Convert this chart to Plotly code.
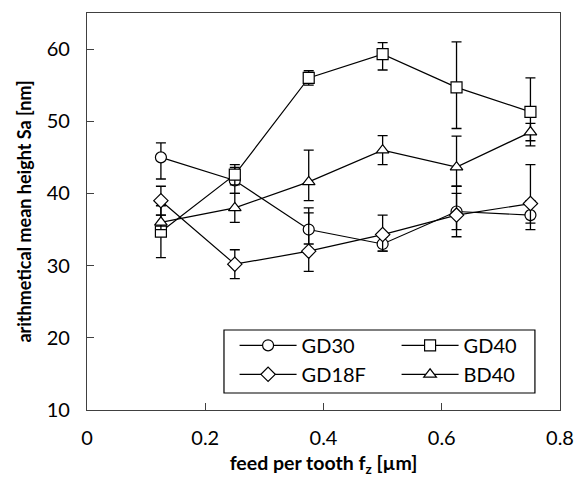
import plotly.graph_objects as go

x_feed = [0.125, 0.25, 0.375, 0.5, 0.625, 0.75]

series_names = ["GD30", "GD40", "GD18F", "BD40"]

gd30 = [45.0, 41.8, 35.0, 33.0, 37.5, 37.0]
gd30_plus = [2.0, 1.8, 3.0, 1.0, 2.5, 2.0]
gd30_minus = [3.0, 1.8, 2.0, 1.0, 2.5, 2.0]

gd40 = [34.7, 42.6, 56.0, 59.3, 54.7, 51.3]
gd40_plus = [3.6, 1.4, 1.0, 1.6, 6.3, 4.7]
gd40_minus = [3.6, 1.4, 1.0, 2.2, 5.7, 4.7]

gd18f = [39.0, 30.2, 32.0, 34.3, 37.0, 38.6]
gd18f_plus = [2.0, 2.0, 5.3, 2.7, 4.0, 5.4]
gd18f_minus = [2.0, 2.0, 2.8, 2.3, 3.0, 2.7]

bd40 = [36.0, 38.0, 41.6, 46.0, 43.65, 48.5]
bd40_plus = [1.0, 2.0, 4.4, 2.0, 4.3, 1.2]
bd40_minus = [1.0, 2.0, 2.6, 2.0, 2.65, 1.2]

x_ticks = [0, 0.2, 0.4, 0.6, 0.8]
x_tick_labels = ["0", "0.2", "0.4", "0.6", "0.8"]
y_ticks = [10, 20, 30, 40, 50, 60]
y_tick_labels = ["10", "20", "30", "40", "50", "60"]

FONT = "Lato"

data = [
    (series_names[0], gd30, gd30_plus, gd30_minus, "circle", 11),
    (series_names[1], gd40, gd40_plus, gd40_minus, "square", 11),
    (series_names[2], gd18f, gd18f_plus, gd18f_minus, "diamond", 11),
    (series_names[3], bd40, bd40_plus, bd40_minus, "triangle-up", 11),
]

fig = go.Figure()
for name, y, ep, em, sym, sz in data:
    fig.add_trace(go.Scatter(
        x=x_feed, y=y, name=name, mode="lines+markers",
        line=dict(color="black", width=1.2),
        marker=dict(symbol=sym, size=sz, color="white",
                    line=dict(color="black", width=1.2)),
        error_y=dict(type="data", symmetric=False, array=ep, arrayminus=em,
                     color="black", thickness=1.3, width=5),
    ))

# legend frame
fig.add_shape(type="rect", xref="paper", yref="paper",
              x0=0.2896, x1=0.947, y0=0.0428, y1=0.2015,
              line=dict(color="black", width=1.2), fillcolor="white",
              layer="above")

fig.update_layout(
    width=574, height=477,
    margin=dict(l=87, r=14, t=13, b=67, autoexpand=False),
    paper_bgcolor="white", plot_bgcolor="white",
    font=dict(family=FONT, size=20, color="black"),
    showlegend=True,
    legend=dict(
        orientation="h", x=0.312, y=0.212, xanchor="left", yanchor="top",
        bgcolor="rgba(0,0,0,0)", borderwidth=0,
        entrywidth=90, entrywidthmode="pixels", itemwidth=57,
        font=dict(family=FONT, size=20, color="black"),
        tracegroupgap=0,
    ),
    xaxis=dict(
        range=[0, 0.8], tickvals=x_ticks, ticktext=x_tick_labels,
        ticks="inside", ticklen=7, tickcolor="#404040", tickwidth=1.3,
        showline=True, linecolor="#404040", linewidth=1.3, mirror=True,
        showgrid=False, zeroline=False, automargin=False,
        title=dict(text="<b>feed per tooth f<sub>z</sub> [µm]</b>",
                   font=dict(family=FONT, size=19.5), standoff=12),
        ticklabelstandoff=10,
    ),
    yaxis=dict(
        range=[10, 65], tickvals=y_ticks, ticktext=y_tick_labels,
        ticks="inside", ticklen=7, tickcolor="#404040", tickwidth=1.3,
        showline=True, linecolor="#404040", linewidth=1.3, mirror=True,
        showgrid=False, zeroline=False, automargin=False,
        title=dict(text="<b>arithmetical mean height Sa [nm]</b>",
                   font=dict(family=FONT, size=18), standoff=10),
        ticklabelstandoff=12,
    ),
)

fig.write_html("out.html", config={"displayModeBar": False},
               post_script="document.body.style.margin='0';")
